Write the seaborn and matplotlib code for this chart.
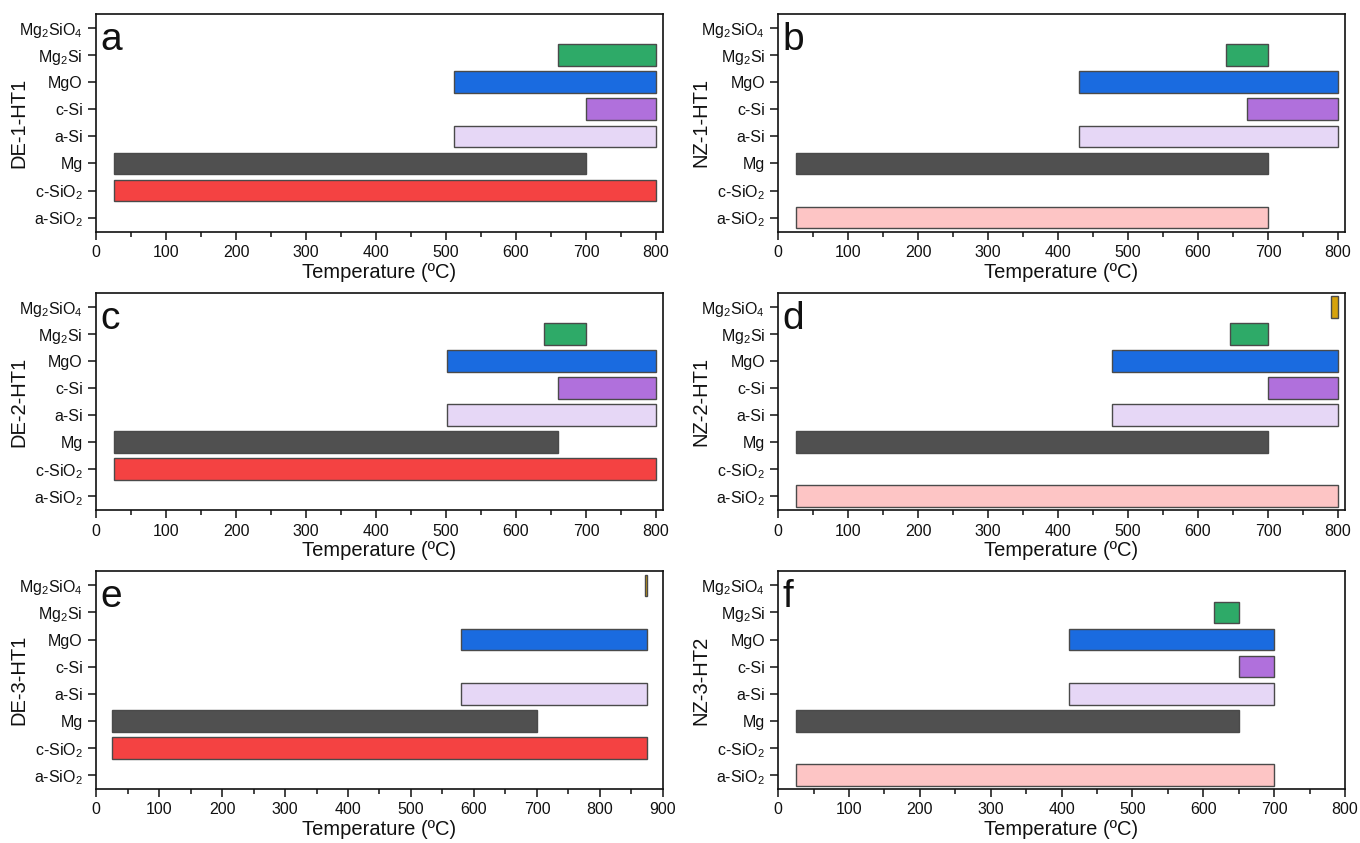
import numpy as np
import pandas as pd
import matplotlib.pyplot as plt
import seaborn as sns
from matplotlib.ticker import MultipleLocator

# phases, top to bottom
phases = ['Mg$_2$SiO$_4$', 'Mg$_2$Si', 'MgO', 'c-Si', 'a-Si', 'Mg', 'c-SiO$_2$', 'a-SiO$_2$']
colors = ['#D6A20C', '#2EAA68', '#1A6BE0', '#B070DC', '#E6D7F6', '#505050', '#F44242', '#FDC5C5']

nan = np.nan
panels = ['a', 'b', 'c', 'd', 'e', 'f']
samples = ['DE-1-HT1', 'NZ-1-HT1', 'DE-2-HT1', 'NZ-2-HT1', 'DE-3-HT1', 'NZ-3-HT2']
x_max = [810, 810, 810, 810, 900, 800]

# onset / end temperature (ºC) of each phase, same order as phases
start_a = [nan, 660, 512, 700, 512, 25, 25, nan]
end_a = [nan, 800, 800, 800, 800, 700, 800, nan]
start_b = [nan, 640, 430, 670, 430, 25, nan, 25]
end_b = [nan, 700, 800, 800, 800, 700, nan, 700]
start_c = [nan, 640, 502, 660, 502, 25, 25, nan]
end_c = [nan, 700, 800, 800, 800, 660, 800, nan]
start_d = [790, 645, 477, 700, 477, 25, nan, 25]
end_d = [800, 700, 800, 800, 800, 700, nan, 800]
start_e = [871, nan, 580, nan, 580, 25, 25, nan]
end_e = [875, nan, 875, nan, 875, 700, 875, nan]
start_f = [nan, 615, 410, 650, 410, 25, nan, 25]
end_f = [nan, 650, 700, 700, 700, 650, nan, 700]

starts = [start_a, start_b, start_c, start_d, start_e, start_f]
ends = [end_a, end_b, end_c, end_d, end_e, end_f]

sns.set_style('ticks')
plt.rcParams['font.family'] = ['Liberation Sans', 'DejaVu Sans']
plt.rcParams['mathtext.default'] = 'regular'
plt.rcParams['text.color'] = '#111111'
plt.rcParams['axes.labelcolor'] = '#111111'
plt.rcParams['axes.edgecolor'] = '#111111'

fig, axes = plt.subplots(3, 2, figsize=(13.6, 8.43), dpi=100)
fig.subplots_adjust(left=0.0706, right=0.989, top=0.9834, bottom=0.064,
                    wspace=0.203, hspace=0.28)

pal = dict(zip(phases, colors))

for i, ax in enumerate(axes.flat):
    df = pd.DataFrame({'phase': phases, 'start': starts[i], 'end': ends[i]})
    df = df.dropna()
    sns.barplot(data=df, x='end', y='phase', hue='phase', order=phases,
                hue_order=phases, palette=pal, legend=False, width=0.8,
                saturation=1, edgecolor='#4a4a4a', linewidth=1.0, ax=ax)
    # turn the bars into floating bars: start -> end
    lookup = df.set_index('phase')
    for p in ax.patches:
        idx = int(round(p.get_y() + p.get_height() / 2))
        s = lookup.loc[phases[idx], 'start']
        e = lookup.loc[phases[idx], 'end']
        p.set_x(s)
        p.set_width(e - s)

    ax.set_xlim(0, x_max[i])
    ax.set_ylim(7.52, -0.52)
    ax.xaxis.set_major_locator(MultipleLocator(100))
    ax.xaxis.set_minor_locator(MultipleLocator(50))
    ax.tick_params(axis='both', which='major', direction='out', length=5.5,
                   width=1.1, labelsize=11.5, colors='#111111', pad=4)
    ax.tick_params(axis='x', which='minor', direction='out', length=3.5, width=1.1,
                   colors='#111111')
    ax.set_ylabel(samples[i], fontsize=14.5)
    ax.yaxis.set_label_coords(-0.12, 0.5)
    ax.set_xlabel('Temperature (ºC)', fontsize=14.5, labelpad=2)
    for sp in ax.spines.values():
        sp.set_visible(True)
        sp.set_linewidth(1.2)
    ax.text(0.008, 0.834, panels[i], transform=ax.transAxes, fontsize=28,
            va='baseline', ha='left')

plt.savefig('out.png', dpi=100)
